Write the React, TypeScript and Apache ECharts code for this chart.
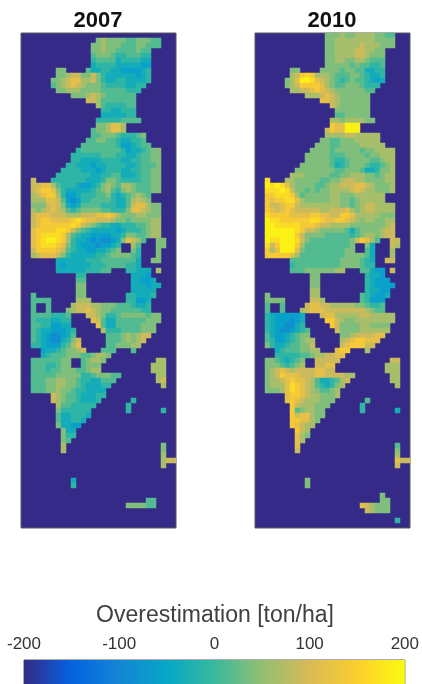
import React, { useEffect, useRef } from "react";
import * as echarts from "echarts";

const TITLES = ["2007", "2010"];
const COLORBAR_TITLE = "Overestimation [ton/ha]";
const COLORBAR_RANGE = [-200, 200];
const PARULA = ["#352A87", "#0363E1", "#1485D4", "#06A7C6", "#38B99E", "#92BF73", "#D9BA56", "#FCCE2E", "#F9FB0E"];
const LEVEL_KEYS = "0123456789abc";
const LEVEL_VALUES = [-110, -85, -60, -35, -10, 15, 40, 65, 90, 115, 140, 165, 190];
const COLUMNS = Array.from({ length: 31 }, (_, i) => String(i));
const ROWS = Array.from({ length: 99 }, (_, i) => String(i));

// Each row: "startColumn:levels" runs.
const ROWS_2007 = [
"",
"15:6766665566655",
"14:66766655566555",
"14:667665555655",
"14:566654455544",
"14:455553444433",
"14:344443333322",
"7:66 13:5334433222234",
"7:6678866864333333234",
"6:66789977864334433334",
"6:5678987666544443344",
"7:66777666655555444",
"10:6667876555555",
"13:8875555555",
"15:75444455",
"16:4433444",
"16:3333344",
"15:444445555",
"15:667997",
"14:5667997",
"14:55666544456",
"13:556655433445",
"12:55555554223455",
"11:45555555542334566",
"10:444444555443345566",
"10:443333444433445566",
"9:4433323344443345556",
"8:44443332344433445566",
"7:444444433445533345566",
"2:8 6:4444444333466544445566",
"2:88997544432234676577655566",
"2:89aa9643333345675467655566",
"2:789aa7422344455643456765",
"2:777998521244555543357876",
"2:66689863235555444335899766",
"2:76789875456666554446998766",
"2:899988877788899a9766677666",
"2:89aa9999aba998887665666677",
"2:89aaaaaaba8765443344455677",
"2:9aaaabba865433333234445677",
"2:9abbbba7543322223346655677",
"2:9abccba7433212112369875 27:66",
"2:9abbba964322212234 22:75 27:66",
"2:8aaaa9854332233456 22:64 27:6",
"2:7899986433333445666654 27:6",
"7:33333344455555553 26:66",
"7:32333334445555443",
"7:33333344455 21:44333 27:7",
"11:44 22:3332",
"11:55 22:33223",
"11:66 22:333233",
"11:66 22:33333",
"2:5 11:66 21:443334",
"2:5555 11:777 21:44223",
"2:5 5:5 10:7888776665554334",
"2:5 5:5 9:67889876655555544",
"2:55554445 13:887644566666566",
"2:54443344 14:98533555555666",
"2:55442233 15:953355555666",
"2:543322234 16:74445555666",
"2:543211235 17:555676788",
"2:5432113468 17:55567678",
"2:4432224579 17:5566677",
"4:233456678 16:555 22:5",
"4:34555666556776",
"2:55555566 12:56776 27:77",
"2:55544566 12:5666 26:777",
"2:55545566655677 26:777",
"2:555556666644566655 27:77",
"2:55566776654433555 27:78",
"2:5556677665433344 28:7",
"2:555667665443333",
"6:87655433344",
"6:8765543334 22:4",
"7:75544444 21:4",
"7:6444444 21:4 28:4",
"7:5334443",
"7:533443",
"7:63322",
"8:633",
"8:644",
"8:65",
"8:7 28:6",
"8:7 28:6",
"28:7",
"28:788",
"28:7",
"",
"",
"10:3",
"10:4",
"",
"",
"25:55",
"21:666655",
"",
"",
"",
"",
];

const ROWS_2010 = [
"14:66676677776655",
"14:66777777776666",
"14:66777778777666",
"14:667777887766",
"14:667777887666",
"14:667766776555",
"14:666665655445",
"7:66 13:6666566553344",
"7:78aba77765556654334",
"6:679ccb98765456554323",
"6:678aaaa976556665444",
"7:77889a98766666655",
"10:7778987666666",
"13:9987666666",
"15:87666666",
"16:6666666",
"16:5566666",
"15:776777766",
"15:a99ccc",
"14:8a99ccc",
"14:77778877777",
"13:665566677777",
"12:66655666677777",
"11:66665666665667777",
"10:666665556666566777",
"10:666665445666655677",
"9:6666665345666544567",
"8:66666666556665334667",
"7:777666665566777665677",
"2:b 6:7766666556678877666677",
"2:cbcb9766665567788899876667",
"2:bbbcb866565667777898776667",
"2:aabbba756666677666777777",
"2:a9aabb976666677665677777",
"2:a889aa87777777766567887777",
"2:a989a988888778889767887777",
"2:baaaa9999aa9988aa977777666",
"2:cbbaaaaaabba99aa9876776677",
"2:ccbbbbbaaa9887777666666678",
"2:ccccccba887666665356666788",
"2:cccccca8666655555456776788",
"2:cbbcccb865555555568a975 27:88",
"2:b8accca75555555556 22:63 27:87",
"2:a79ccc965555555566 22:53 27:7",
"2:aaaaa97555555555666653 27:7",
"7:55555555556666543 26:88",
"7:45555555556666544",
"7:55566666677 21:55322 27:8",
"11:66 22:4332",
"11:66 22:43222",
"11:66 22:432222",
"11:77 22:43322",
"2:6 11:77 21:543223",
"2:6666 11:887 21:54222",
"2:5 5:5 10:8998877777665445",
"2:5 5:5 9:78999888888887655",
"2:43222223 13:899777778877777",
"2:43222123 14:aa876677777777",
"2:43221134 15:a86666776666",
"2:432112345 16:86666777777",
"2:532234566 17:667888899",
"2:5422345677 17:789aa999",
"2:6433455668 17:89aaa88",
"4:345556677 16:9aa 22:7",
"4:44444556778899",
"2:66543456 12:88888 27:88",
"2:66654567 12:8899 26:777",
"2:67898788889988 26:777",
"2:678a99988899888877 27:77",
"2:67789a99875334578 27:77",
"2:67779ba987543467 28:7",
"2:66679ba98765567",
"6:9aa98776667",
"6:9a98777666 22:5",
"7:a8777666 21:4",
"7:a567766 21:4 28:3",
"7:a899766",
"7:aa9976",
"7:a9877",
"8:a87",
"8:976",
"8:97",
"8:9 28:5",
"8:8 28:6",
"28:7",
"28:988",
"28:8",
"",
"",
"10:6",
"10:6",
"",
"25:6",
"25:66",
"21:987666",
"22:87666",
"",
"28:4",
"",
];

function decode(rows: string[]): number[][] {
  const out: number[][] = [];
  rows.forEach((row, r) => {
    row.split(" ").filter(Boolean).forEach((run) => {
      const [start, levels] = run.split(":");
      [...levels].forEach((ch, i) => {
        out.push([Number(start) + i, r, LEVEL_VALUES[LEVEL_KEYS.indexOf(ch)]]);
      });
    });
  });
  return out;
}

const FONT = '"Liberation Sans", Arial, sans-serif';
const hiddenAxis = { show: false };

export default function App() {
  const ref = useRef<HTMLDivElement>(null);
  useEffect(() => {
    if (!ref.current) return;
    const chart = echarts.init(ref.current, undefined, { renderer: "svg" });
    const plotGrid = (left: number) => ({
      left, top: 33, width: 155, height: 495, show: true,
      backgroundColor: PARULA[0], borderColor: "#5a5a5a", borderWidth: 1,
    });
    const catX = (gridIndex: number) => ({ type: "category", gridIndex, data: COLUMNS, ...hiddenAxis });
    const catY = (gridIndex: number) => ({ type: "category", gridIndex, data: ROWS, inverse: true, ...hiddenAxis });
    chart.setOption({
      animation: false,
      backgroundColor: "#ffffff",
      title: [
        { text: TITLES[0], left: 93, top: 3, textAlign: "center", textStyle: { fontFamily: FONT, fontSize: 22, fontWeight: "bold", color: "#111" } },
        { text: TITLES[1], left: 327, top: 3, textAlign: "center", textStyle: { fontFamily: FONT, fontSize: 22, fontWeight: "bold", color: "#111" } },
        { text: COLORBAR_TITLE, left: 210, top: 597, textAlign: "center", textStyle: { fontFamily: FONT, fontSize: 23, fontWeight: "normal", color: "#404040" } },
      ],
      grid: [
        plotGrid(21),
        plotGrid(255),
        { left: 24, top: 660, width: 383, height: 30, show: true, borderColor: "#5a5a5a", borderWidth: 1 },
      ],
      xAxis: [
        catX(0),
        catX(1),
        {
          type: "value", gridIndex: 2, position: "top", min: COLORBAR_RANGE[0], max: COLORBAR_RANGE[1], interval: 100,
          splitLine: { show: false },
          axisLine: { show: true, lineStyle: { color: "#5a5a5a" } },
          axisTick: { show: true, inside: true, length: 3, lineStyle: { color: "#444" } },
          axisLabel: { fontFamily: FONT, fontSize: 17, color: "#333", margin: 8 },
        },
      ],
      yAxis: [
        catY(0),
        catY(1),
        { type: "value", gridIndex: 2, min: 0, max: 1, ...hiddenAxis },
      ],
      visualMap: {
        show: false, type: "continuous", min: COLORBAR_RANGE[0], max: COLORBAR_RANGE[1],
        dimension: 2, seriesIndex: [0, 1], inRange: { color: PARULA },
      },
      series: [
        { type: "heatmap", xAxisIndex: 0, yAxisIndex: 0, data: decode(ROWS_2007), itemStyle: { borderWidth: 0 }, progressive: 0 },
        { type: "heatmap", xAxisIndex: 1, yAxisIndex: 1, data: decode(ROWS_2010), itemStyle: { borderWidth: 0 }, progressive: 0 },
        {
          type: "custom", xAxisIndex: 2, yAxisIndex: 2, silent: true, z: 1,
          data: [[COLORBAR_RANGE[0], COLORBAR_RANGE[1]]],
          renderItem: (_p: any, api: any) => {
            const a = api.coord([api.value(0), 1]);
            const b = api.coord([api.value(1), 0]);
            return {
              type: "rect",
              shape: { x: a[0], y: a[1], width: b[0] - a[0], height: b[1] - a[1] },
              style: {
                fill: new echarts.graphic.LinearGradient(0, 0, 1, 0,
                  PARULA.map((color, i) => ({ offset: i / (PARULA.length - 1), color }))),
              },
            };
          },
        },
      ],
    });
    return () => chart.dispose();
  }, []);
  return <div ref={ref} style={{ position: "absolute", left: 0, top: 0, width: 422, height: 684, filter: "blur(0.7px)" }} />;
}
